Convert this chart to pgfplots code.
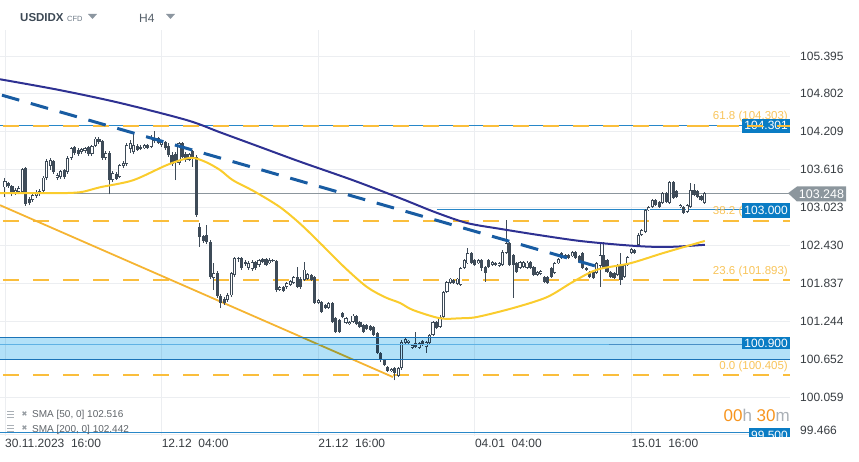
\documentclass[border=0pt]{standalone}
\usepackage{pgfplots}
\pgfplotsset{compat=1.18}
\usepackage{pgfplotstable}
\usepackage{fontspec}
\setmainfont{Liberation Sans}
\newfontfamily\dejavu{DejaVu Sans}
\definecolor{cdark}{RGB}{62,75,88}
\definecolor{sma200}{RGB}{46,49,146}
\definecolor{sma50}{RGB}{250,204,45}
\definecolor{fibc}{RGB}{250,190,60}
\definecolor{fibtxt}{RGB}{248,196,90}
\definecolor{boxblue}{RGB}{10,124,196}
\definecolor{lineblue}{RGB}{40,135,200}
\definecolor{bandfill}{RGB}{178,225,248}
\definecolor{bandline}{RGB}{27,116,184}
\definecolor{bandmid}{RGB}{95,178,228}
\definecolor{trendblue}{RGB}{24,92,162}
\definecolor{trendor}{RGB}{245,180,50}
\definecolor{pricegray}{RGB}{140,150,157}
\definecolor{gridc}{RGB}{236,238,241}
\definecolor{ticktext}{RGB}{55,60,65}
\definecolor{cdorange}{RGB}{247,148,29}
\definecolor{cdgray}{RGB}{170,176,182}
\definecolor{legtext}{RGB}{95,100,105}
\definecolor{legx}{RGB}{150,156,162}
\definecolor{hdrdark}{RGB}{61,73,85}
\definecolor{hdrcfd}{RGB}{110,122,135}
\definecolor{hdrtri}{RGB}{140,150,160}
\definecolor{hdrh}{RGB}{85,95,105}

\pgfplotstableread{
i o h l c
0 103.34 103.49 103.19 103.44
1 103.41 103.42 103.33 103.36
2 103.36 103.38 103.20 103.27
3 103.25 103.33 103.22 103.30
4 103.27 103.36 103.23 103.33
5 103.27 103.64 103.23 103.63
6 103.64 103.66 103.05 103.08
7 103.16 103.19 103.06 103.09
8 103.14 103.25 103.11 103.22
9 103.20 103.30 103.17 103.27
10 103.23 103.31 103.20 103.28
11 103.28 103.52 103.27 103.49
12 103.49 103.78 103.45 103.75
13 103.67 103.80 103.61 103.77
14 103.75 103.77 103.55 103.58
15 103.49 103.56 103.45 103.53
16 103.50 103.61 103.47 103.59
17 103.61 103.63 103.47 103.50
18 103.58 103.83 103.55 103.80
19 103.80 103.97 103.77 103.95
20 103.97 103.99 103.85 103.88
21 103.92 103.95 103.83 103.86
22 103.89 103.95 103.86 103.94
23 103.91 103.97 103.88 103.95
24 103.97 103.99 103.83 103.86
25 103.86 104.00 103.83 103.99
26 103.99 104.13 103.97 104.10
27 104.10 104.13 104.02 104.05
28 104.06 104.08 103.77 103.80
29 103.80 103.91 103.77 103.88
30 103.88 103.91 103.23 103.45
31 103.45 103.59 103.42 103.56
32 103.55 103.58 103.45 103.47
33 103.50 103.70 103.49 103.69
34 103.67 103.75 103.64 103.72
35 103.70 104.03 103.67 104.00
36 103.94 104.08 103.88 104.03
37 103.89 104.20 103.86 104.00
38 103.99 104.02 103.91 103.92
39 103.97 104.00 103.92 103.94
40 103.95 104.02 103.94 104.00
41 104.00 104.02 103.94 103.95
42 103.97 104.16 103.95 104.13
43 104.06 104.22 104.03 104.11
44 104.11 104.13 104.02 104.03
45 104.00 104.06 103.97 104.05
46 104.05 104.06 103.92 103.95
47 103.99 104.03 103.81 103.85
48 103.85 103.89 103.67 103.70
49 103.86 103.89 103.45 103.74
50 103.72 104.05 103.69 104.03
51 104.03 104.05 103.80 103.81
52 103.86 103.89 103.74 103.77
53 103.77 103.88 103.75 103.86
54 103.91 103.92 103.66 103.81
55 103.81 103.85 102.88 102.91
56 102.72 102.78 102.41 102.56
57 102.58 102.59 102.47 102.50
58 102.59 102.75 102.45 102.48
59 102.48 102.52 101.91 101.94
60 101.92 102.15 101.73 102.00
61 102.00 102.03 101.61 101.64
62 101.64 101.67 101.45 101.53
63 101.59 101.62 101.50 101.53
64 101.58 101.69 101.55 101.65
65 101.65 102.01 101.62 102.00
66 101.97 102.25 101.94 102.23
67 102.22 102.25 102.17 102.23
68 102.23 102.25 102.05 102.08
69 102.17 102.20 102.11 102.14
70 102.08 102.19 102.05 102.15
71 102.06 102.20 102.03 102.17
72 102.17 102.19 102.05 102.08
73 102.12 102.22 102.09 102.20
74 102.22 102.23 102.15 102.17
75 102.22 102.23 102.11 102.12
76 102.15 102.23 102.14 102.20
77 102.19 102.22 102.17 102.20
78 102.19 102.20 101.70 101.73
79 101.73 101.80 101.72 101.78
80 101.78 101.80 101.70 101.72
81 101.78 101.86 101.75 101.84
82 101.81 101.89 101.80 101.87
83 101.84 101.95 101.83 101.94
84 101.94 102.09 101.76 101.78
85 101.91 101.94 101.75 101.78
86 101.89 102.17 101.87 102.05
87 101.91 102.00 101.89 101.98
88 101.97 101.98 101.87 101.89
89 101.94 101.95 101.51 101.53
90 101.53 101.59 101.51 101.58
91 101.55 101.56 101.37 101.39
92 101.50 101.51 101.44 101.45
93 101.45 101.55 101.44 101.53
94 101.53 101.55 101.22 101.23
95 101.29 101.31 101.06 101.08
96 101.26 101.28 101.06 101.08
97 101.37 101.39 101.29 101.31
98 101.22 101.31 101.20 101.29
99 101.20 101.25 101.18 101.23
100 101.23 101.36 101.22 101.33
101 101.33 101.34 101.18 101.20
102 101.23 101.25 101.14 101.15
103 101.18 101.20 101.06 101.08
104 101.18 101.20 101.11 101.12
105 101.17 101.19 101.09 101.11
106 101.15 101.17 101.01 101.03
107 101.06 101.08 100.73 100.75
108 100.75 100.76 100.61 100.64
109 100.64 100.65 100.54 100.56
110 100.53 100.54 100.45 100.47
111 100.47 100.51 100.45 100.50
112 100.51 100.53 100.32 100.43
113 100.39 100.53 100.37 100.51
114 100.51 100.95 100.48 100.92
115 100.90 100.98 100.89 100.97
116 100.90 100.95 100.89 100.94
117 100.83 100.89 100.81 100.87
118 100.90 101.08 100.83 100.84
119 100.83 100.92 100.81 100.90
120 100.94 100.95 100.86 100.87
121 100.84 100.94 100.75 100.92
122 100.90 101.04 100.89 101.03
123 101.03 101.25 101.01 101.23
124 101.23 101.25 101.12 101.14
125 101.15 101.34 101.14 101.31
126 101.31 101.72 101.29 101.70
127 101.70 101.87 101.69 101.86
128 101.84 101.92 101.83 101.91
129 101.89 101.91 101.83 101.84
130 101.83 101.92 101.81 101.91
131 101.81 102.09 101.80 102.08
132 102.08 102.22 102.06 102.20
133 102.15 102.39 102.14 102.31
134 102.31 102.33 102.14 102.15
135 102.20 102.22 102.11 102.12
136 102.15 102.22 102.14 102.20
137 102.20 102.22 102.03 102.08
138 102.09 102.11 101.86 102.00
139 102.20 102.22 102.08 102.09
140 102.12 102.19 102.11 102.17
141 102.15 102.17 102.11 102.12
142 102.11 102.17 102.09 102.15
143 102.12 102.36 102.11 102.33
144 102.31 102.83 102.30 102.47
145 102.47 102.48 102.11 102.12
146 102.28 102.30 101.61 102.12
147 102.15 102.17 102.00 102.01
148 102.08 102.19 102.06 102.17
149 102.09 102.19 102.08 102.17
150 102.08 102.19 102.06 102.16
151 102.17 102.19 102.06 102.08
152 102.09 102.11 101.95 101.97
153 101.97 102.03 101.95 102.01
154 101.98 102.05 101.96 102.03
155 101.94 101.95 101.84 101.86
156 101.94 101.95 101.83 101.84
157 102.08 102.09 101.92 101.94
158 102.00 102.17 101.98 102.15
159 102.15 102.23 102.14 102.22
160 102.31 102.33 102.22 102.23
161 102.23 102.30 102.22 102.28
162 102.28 102.30 102.22 102.23
163 102.26 102.34 102.25 102.33
164 102.33 102.34 102.22 102.23
165 102.26 102.28 102.15 102.17
166 102.31 102.33 102.06 102.08
167 102.08 102.09 102.03 102.05
168 102.01 102.03 101.92 101.94
169 102.01 102.03 101.91 101.92
170 102.00 102.17 101.98 102.15
171 102.11 102.48 101.78 102.28
172 102.28 102.48 102.06 102.08
173 102.20 102.22 102.00 102.01
174 102.01 102.03 101.92 101.94
175 102.00 102.01 101.91 101.92
176 101.97 102.14 101.95 102.12
177 102.12 102.31 101.81 101.89
178 101.94 102.14 101.92 102.12
179 102.12 102.27 102.11 102.25
180 102.31 102.39 102.30 102.37
181 102.36 102.37 102.30 102.31
182 102.44 102.62 102.42 102.59
183 102.59 102.69 102.58 102.67
184 102.64 103.00 102.62 102.98
185 102.98 103.05 102.97 103.03
186 103.03 103.16 103.02 103.14
187 103.14 103.16 103.05 103.06
188 103.11 103.13 103.02 103.03
189 103.09 103.27 103.08 103.25
190 103.25 103.27 103.09 103.11
191 103.09 103.44 103.08 103.42
192 103.42 103.44 103.16 103.17
193 103.28 103.30 103.17 103.19
194 103.03 103.08 103.02 103.06
195 103.03 103.05 102.92 102.94
196 102.95 103.08 102.94 103.06
197 103.03 103.41 103.02 103.30
198 103.30 103.39 103.20 103.22
199 103.28 103.30 103.17 103.19
200 103.20 103.22 103.13 103.14
201 103.09 103.27 103.08 103.25
}\candles

\begin{document}
\begin{tikzpicture}
\path[use as bounding box] (0,0) rectangle (859pt,461pt);
\begin{axis}[
  at={(0pt,25pt)}, anchor=south west, scale only axis,
  width=790pt, height=406pt,
  xmin=-1.4368, xmax=225.575, ymin=99.448, ymax=105.801,
  clip mode=individual,
  axis line style={draw=none}, major tick length=0pt,
  grid=major, major grid style={draw=gridc, line width=0.8pt},
  xtick={0,45,90,135,180},
  xticklabels={30.11.2023\ \ 16:00, 12.12\ \ 04:00, 21.12\ \ 16:00, 04.01\ \ 04:00, 15.01\ \ 16:00},
  ytick={105.395,104.802,104.209,103.616,103.023,102.430,101.837,101.244,100.652,100.059,99.466},
  yticklabels={105.395,104.802,104.209,103.616,103.023,102.430,101.837,101.244,100.652,100.059,{}},
  yticklabel pos=right,
  tick label style={font=\fontsize{12}{14}\selectfont, text=ticktext, inner sep=0pt},
  xticklabel style={anchor=north west, yshift=-2.5pt},
  yticklabel style={anchor=west, xshift=10pt},
]
% horizontal levels
\addplot[lineblue, line width=1pt, forget plot] coordinates {(-1.4368,104.301) (225.575,104.301)};
\addplot[pricegray, line width=1.1pt, forget plot] coordinates {(-1.4368,103.248) (225.575,103.248)};
\addplot[lineblue, line width=1pt, forget plot] coordinates {(124,103.000) (225.575,103.000)};
\addplot[lineblue, line width=1.2pt, forget plot] coordinates {(-1.4368,99.500) (225.575,99.500)};
% fibonacci levels
\addplot[fibc, line width=2.2pt, dash pattern=on 16pt off 14pt, dash phase=27pt, forget plot] coordinates {(-1.4368,104.303) (225.575,104.303)};
\addplot[fibc, line width=2.2pt, dash pattern=on 16pt off 14pt, dash phase=27pt, forget plot] coordinates {(-1.4368,102.814) (225.575,102.814)};
\addplot[fibc, line width=2.2pt, dash pattern=on 16pt off 14pt, dash phase=27pt, forget plot] coordinates {(-1.4368,101.893) (225.575,101.893)};
\addplot[fibc, line width=2.2pt, dash pattern=on 16pt off 14pt, dash phase=27pt, forget plot] coordinates {(-1.4368,100.405) (225.575,100.405)};
% orange support line
\addplot[trendor, line width=1.8pt, forget plot] coordinates {(-1.4368,103.06) (111.5,100.37)};
% candles: wicks
\addplot[draw=none, mark=none, forget plot,
  error bars/.cd, y dir=plus, y explicit, error mark=none,
  error bar style={draw=cdark, line width=1pt}]
  table[x=i, y=l, y error plus expr={\thisrow{h}-\thisrow{l}}] {\candles};
% bodies
\addplot[draw=none, mark=none, forget plot,
  error bars/.cd, y dir=plus, y explicit, error mark=none,
  error bar style={draw=cdark, line width=3.1pt}]
  table[x=i, y expr={min(\thisrow{o},\thisrow{c})}, y error plus expr={abs(\thisrow{c}-\thisrow{o})}] {\candles};
% hollow insides of rising candles
\addplot[draw=none, mark=none, forget plot,
  error bars/.cd, y dir=plus, y explicit, error mark=none,
  error bar style={draw=white, line width=1.4pt}]
  table[x=i, y expr={\thisrow{o}+0.012}, y error plus expr={max(\thisrow{c}-\thisrow{o}-0.024,0)}] {\candles};
% support band
\addplot[draw=none, fill=bandfill, blend mode=multiply, forget plot] coordinates {(-1.4368,100.65) (225.575,100.65) (225.575,100.99) (-1.4368,100.99)} -- cycle;
\addplot[bandline, line width=1.2pt, forget plot] coordinates {(-1.4368,100.99) (225.575,100.99)};
\addplot[bandline, line width=1.2pt, forget plot] coordinates {(-1.4368,100.65) (225.575,100.65)};
\addplot[bandmid, line width=1.4pt, forget plot] coordinates {(-1.4368,100.88) (173.5,100.88)};
\addplot[bandline!80, line width=0.9pt, forget plot] coordinates {(173.5,100.885) (225.575,100.885)};
% SMA 200
\addplot[sma200, line width=2pt, smooth, tension=0.5, forget plot] coordinates {
(-1.44,105.03) (15.8,104.86) (33,104.66) (52.3,104.39) (61.8,104.20) (73.3,103.97) (84.8,103.74)
(100,103.45) (113.5,103.17) (123.6,102.95) (132.8,102.78) (142.2,102.69) (153.7,102.59)
(165.2,102.50) (176.7,102.44) (185.3,102.41) (192.5,102.41) (201.1,102.44)};
% SMA 50
\addplot[sma50, line width=2pt, smooth, tension=0.5, forget plot] coordinates {
(-1.44,103.25) (7.2,103.25) (17.8,103.25) (22.4,103.27) (27.3,103.34) (36.8,103.45) (46.6,103.69)
(53.2,103.80) (57.5,103.74) (61.8,103.61) (65.5,103.45) (71.8,103.27) (79,103.03) (84.8,102.77)
(90.5,102.47) (97.7,102.08) (104,101.78) (109.2,101.62) (113.5,101.53) (117.2,101.42) (125,101.29)
(130.7,101.29) (135.6,101.31) (146,101.45) (155.7,101.62) (163.2,101.86) (170.1,102.05)
(179.6,102.15) (189.1,102.31) (201.1,102.50)};
% dashed resistance line
\addplot[trendblue, line width=3pt, dash pattern=on 18pt off 12pt, dash phase=28pt, forget plot] coordinates {(-1.4368,104.79) (169.5,102.11)};
% fibonacci texts
\node[anchor=east, text=fibtxt, font=\fontsize{11.5}{13}\selectfont, inner sep=0pt, xshift=-2pt, yshift=9pt] at ({rel axis cs:1,0}|-{axis cs:0,104.303}) {61.8 (104.303)};
\node[anchor=east, text=fibtxt, font=\fontsize{11.5}{13}\selectfont, inner sep=0pt, xshift=-2pt, yshift=9pt] at ({rel axis cs:1,0}|-{axis cs:0,102.814}) {38.2 (102.814)};
\node[anchor=east, text=fibtxt, font=\fontsize{11.5}{13}\selectfont, inner sep=0pt, xshift=-2pt, yshift=8pt] at ({rel axis cs:1,0}|-{axis cs:0,101.893}) {23.6 (101.893)};
\node[anchor=east, text=fibtxt, font=\fontsize{11.5}{13}\selectfont, inner sep=0pt, xshift=-2pt, yshift=8pt] at ({rel axis cs:1,0}|-{axis cs:0,100.405}) {0.0 (100.405)};
% value boxes
\node[fill=boxblue, text=white, anchor=east, inner xsep=2pt, inner ysep=0pt, minimum height=14.5pt, font=\fontsize{12}{14}\selectfont] at ({rel axis cs:1,0}|-{axis cs:0,104.301}) {104.301};
\node[fill=boxblue, text=white, anchor=east, inner xsep=2pt, inner ysep=0pt, minimum height=14.5pt, font=\fontsize{12}{14}\selectfont] at ({rel axis cs:1,0}|-{axis cs:0,102.975}) {103.000};
\node[fill=boxblue, text=white, anchor=east, inner xsep=2pt, inner ysep=0pt, minimum height=12.5pt, font=\fontsize{12}{14}\selectfont] at ({rel axis cs:1,0}|-{axis cs:0,100.90}) {100.900};
% fib dash over the 104.301 box
\addplot[fibc, line width=2.2pt, dash pattern=on 16pt off 14pt, dash phase=27pt, forget plot] coordinates {(195,104.303) (225.575,104.303)};
\end{axis}

\begin{scope}[x=1pt,y=-1pt,shift={(0pt,461pt)}]
% header
\node[anchor=west, inner sep=0pt, text=hdrdark, font=\bfseries\fontsize{11.5}{14}\selectfont] at (20,17.5) {USDIDX};
\node[anchor=west, inner sep=0pt, text=hdrcfd, font=\fontsize{7.5}{9}\selectfont] at (67,18.5) {CFD};
\fill[hdrtri] (88,14) -- (97,14) -- (92.5,19) -- cycle;
\node[anchor=west, inner sep=0pt, text=hdrh, font=\fontsize{12}{14}\selectfont] at (139,18.5) {H4};
\fill[hdrtri] (166,14) -- (175,14) -- (170.5,19) -- cycle;
% current price tag
\fill[pricegray] (788,193.2) -- (797,186.5) -- (846,186.5) -- (846,201.5) -- (797,201.5) -- cycle;
\node[text=white, inner sep=0pt, font=\fontsize{12.5}{14}\selectfont] at (821.5,194) {103.248};
% bottom y label
\node[anchor=west, inner sep=0pt, text=ticktext, font=\fontsize{12}{14}\selectfont] at (800,430) {99.466};
% 99.500 box (clipped)
\begin{scope}
\clip (700,400) rectangle (790,436);
\node[fill=boxblue, text=white, anchor=east, inner xsep=2pt, inner ysep=0pt, minimum height=15pt, font=\fontsize{12}{14}\selectfont] at (790,435.5) {99.500};
\end{scope}
% countdown
\node[anchor=east, inner sep=0pt, font=\fontsize{17}{19}\selectfont] at (790,415) {\textcolor{cdorange}{00}\textcolor{cdgray}{h} \textcolor{cdorange}{30}\textcolor{cdgray}{m}};
% legend
\foreach \yy/\txt in {415/{SMA [50,\ 0]\ 102.516}, 429.5/{SMA [200,\ 0]\ 102.442}} {
  \draw[cdgray, line width=1pt] (7,\yy-4) -- (14,\yy-4) (7,\yy-1) -- (14,\yy-1) (7,\yy+2) -- (14,\yy+2);
  \node[inner sep=0pt, text=legx, font=\dejavu\fontsize{7}{8}\selectfont] at (24.5,\yy-1) {✖};
  \node[anchor=west, inner sep=0pt, text=legtext, font=\fontsize{10}{12}\selectfont] at (32,\yy) {\txt};
}
\end{scope}
\end{tikzpicture}
\end{document}
